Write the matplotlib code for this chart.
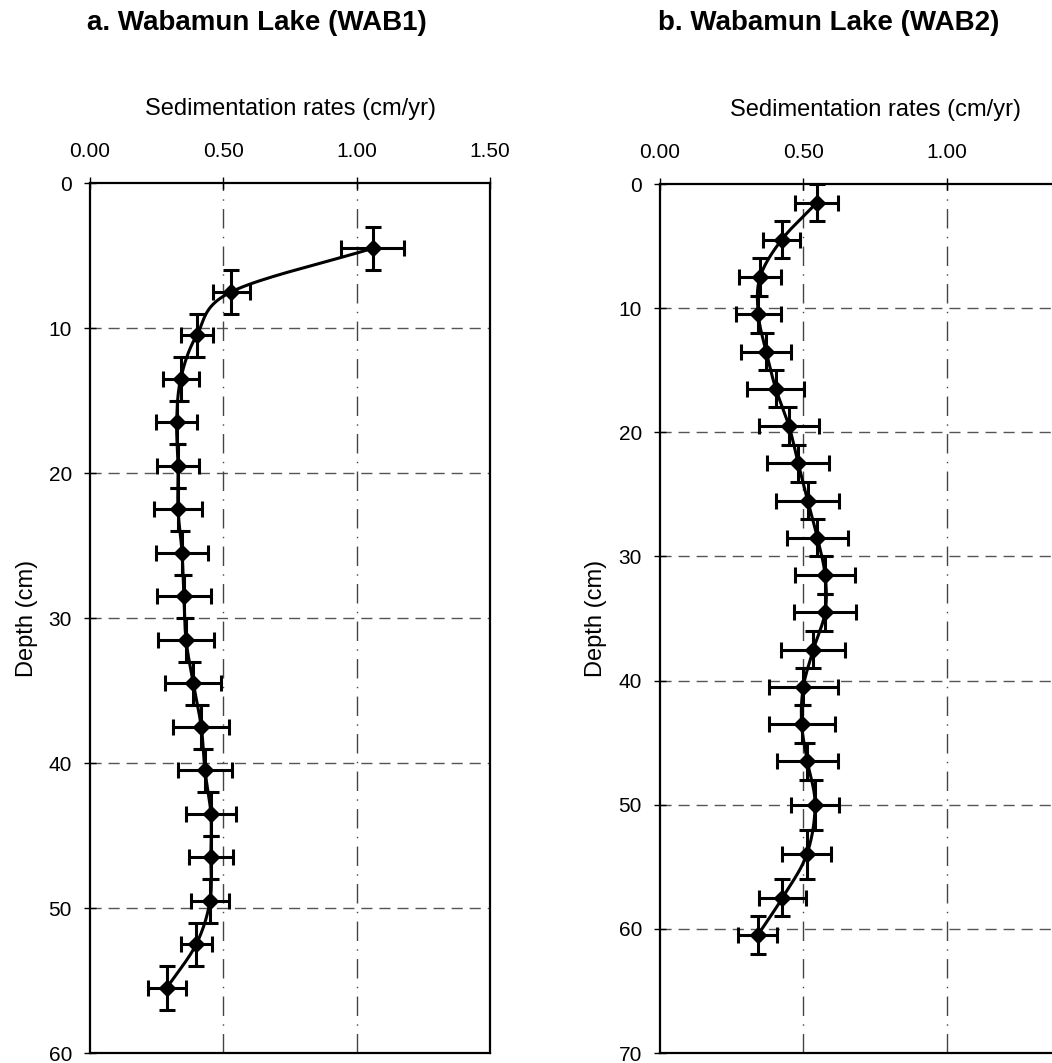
import numpy as np
import matplotlib
matplotlib.use('Agg')
import matplotlib.pyplot as plt

plt.rcParams['font.family'] = ['Liberation Sans', 'DejaVu Sans']

# WAB1 core
depth_a = [4.5, 7.5, 10.5, 13.5, 16.5, 19.5, 22.5, 25.5, 28.5, 31.5, 34.5, 37.5,
           40.5, 43.5, 46.5, 49.5, 52.5, 55.5]
rate_a = [1.06, 0.53, 0.40, 0.34, 0.325, 0.33, 0.33, 0.345, 0.352, 0.36, 0.387, 0.417,
          0.431, 0.453, 0.453, 0.45, 0.398, 0.288]
rate_err_a = [0.118, 0.07, 0.06, 0.068, 0.076, 0.08, 0.09, 0.098, 0.10, 0.105, 0.105, 0.105,
              0.10, 0.095, 0.083, 0.07, 0.058, 0.071]
depth_err_a = [1.5] * len(depth_a)

# WAB2 core
depth_b = [1.5, 4.5, 7.5, 10.5, 13.5, 16.5, 19.5, 22.5, 25.5, 28.5, 31.5, 34.5,
           37.5, 40.5, 43.5, 46.5, 50.0, 54.0, 57.5, 60.5]
rate_b = [0.547, 0.424, 0.349, 0.343, 0.37, 0.404, 0.45, 0.482, 0.515, 0.549, 0.576, 0.576,
          0.535, 0.50, 0.494, 0.514, 0.541, 0.512, 0.427, 0.341]
rate_err_b = [0.075, 0.066, 0.072, 0.078, 0.087, 0.099, 0.105, 0.109, 0.109, 0.106, 0.105, 0.107,
              0.112, 0.121, 0.115, 0.107, 0.085, 0.085, 0.083, 0.068]
depth_err_b = [1.5] * 16 + [2.0, 2.0, 1.5, 1.5]

x_ticks_a = [0.0, 0.5, 1.0, 1.5]
x_ticks_b = [0.0, 0.5, 1.0]   # 1.50 falls outside the page in panel b


def smooth_curve(x, y, n=20):
    # catmull-rom through the points (like the excel "smoothed line")
    p = np.column_stack([x, y]).astype(float)
    p = np.vstack([2 * p[0] - p[1], p, 2 * p[-1] - p[-2]])
    out = []
    t = np.linspace(0, 1, n, endpoint=False)[:, None]
    for i in range(1, len(p) - 2):
        p0, p1, p2, p3 = p[i - 1], p[i], p[i + 1], p[i + 2]
        seg = 0.5 * ((2 * p1) + (-p0 + p2) * t + (2 * p0 - 5 * p1 + 4 * p2 - p3) * t ** 2
                     + (-p0 + 3 * p1 - 3 * p2 + p3) * t ** 3)
        out.append(seg)
    out.append(p[-2][None, :])
    out = np.vstack(out)
    return out[:, 0], out[:, 1]


def draw_panel(ax, rate, depth, rate_err, depth_err, ymax, xticks):
    sx, sy = smooth_curve(rate, depth)
    ax.plot(sx, sy, color='black', lw=2.2, zorder=3)
    ax.errorbar(rate, depth, xerr=rate_err, yerr=depth_err, fmt='D', color='black',
                ms=8, elinewidth=2.2, capsize=6, capthick=2.2, zorder=4)
    ax.set_xlim(0, 1.5)
    ax.set_ylim(ymax, 0)
    ax.set_xticks(xticks)
    ax.set_xticklabels(['%.2f' % v for v in xticks])
    ax.set_yticks(range(0, ymax + 1, 10))
    ax.xaxis.tick_top()
    ax.xaxis.set_label_position('top')
    ax.tick_params(direction='inout', length=8, width=1, labelsize=15)
    ax.tick_params(axis='x', pad=12)
    ax.tick_params(axis='y', pad=9)
    for yv in range(10, ymax, 10):
        ax.axhline(yv, color='#555555', lw=1, ls=(0, (8, 5)), zorder=1)
    for xv in [0.5, 1.0]:
        ax.axvline(xv, color='#444444', lw=1, ls=(0, (14, 6, 1, 6)), zorder=1)
    for s in ax.spines.values():
        s.set_linewidth(1.6)
    ax.set_xlabel('Sedimentation rates (cm/yr)', fontsize=17, labelpad=19)
    ax.set_ylabel('Depth (cm)', fontsize=17, labelpad=8)


fig = plt.figure(figsize=(10.52, 10.63), dpi=100)
ax1 = fig.add_axes([0.0856, 0.0094, 0.3802, 0.8184])
ax2 = fig.add_axes([0.6274, 0.0094, 0.4087, 0.8175])

draw_panel(ax1, rate_a, depth_a, rate_err_a, depth_err_a, 60, x_ticks_a)
draw_panel(ax2, rate_b, depth_b, rate_err_b, depth_err_b, 70, x_ticks_b)

fig.text(0.0827, 0.9718, 'a. Wabamun Lake (WAB1)', fontsize=20, fontweight='bold',
         ha='left', va='baseline')
fig.text(0.6255, 0.9718, 'b. Wabamun Lake (WAB2)', fontsize=20, fontweight='bold',
         ha='left', va='baseline')

fig.savefig('out.png', dpi=100)
